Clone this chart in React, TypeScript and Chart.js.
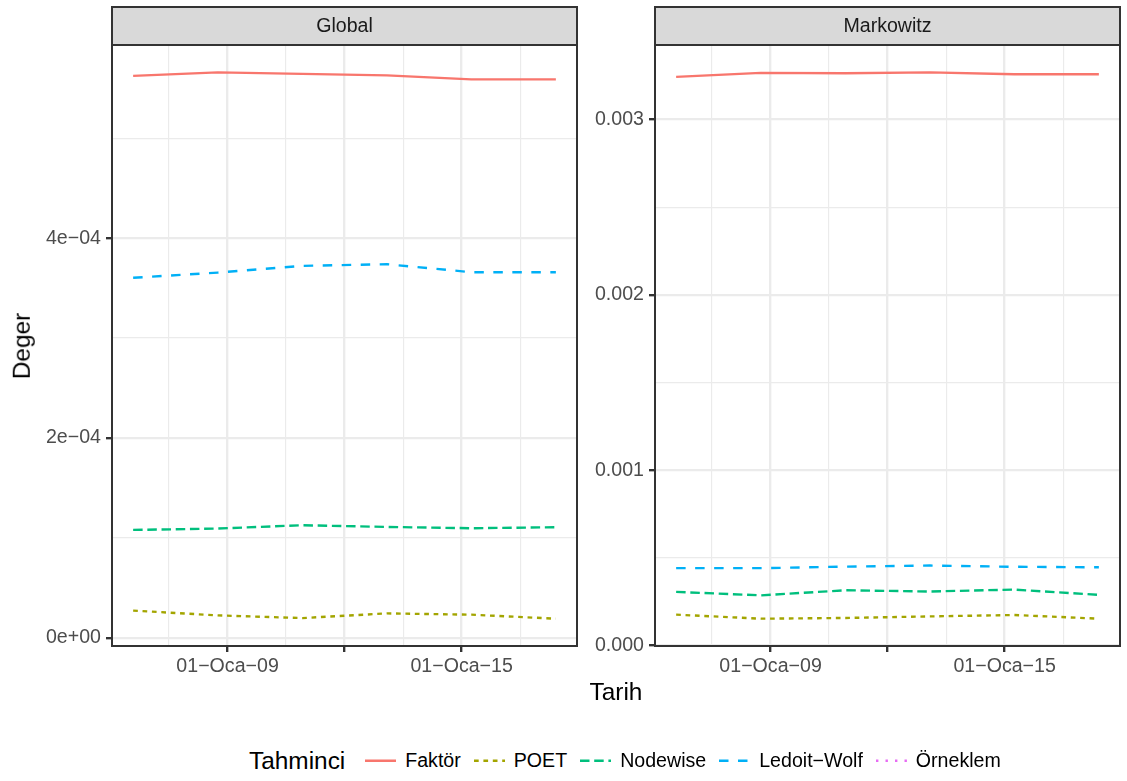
import React, { useEffect, useRef } from "react";
import { Chart, registerables } from "chart.js";

Chart.register(...registerables);

const FONT = '"Liberation Sans", Arial, Helvetica, sans-serif';

// Observation dates shared by both panels
const DATES = ["2006-08-01", "2008-10-01", "2010-12-01", "2013-02-01", "2015-04-01", "2017-06-01"];

// Estimators, in legend order
const ESTIMATORS = ["Faktör", "POET", "Nodewise", "Ledoit\u2212Wolf", "Örneklem"];
const COLORS = ["#F8766D", "#A3A500", "#00BF7D", "#00B0F6", "#E76BF3"];
const LINE_W = 2.37;
const DASHES: number[][] = [[], [4.7, 4.7], [9.5, 4.7], [9.5, 9.5], [2.4, 7.1]];

// Global minimum-variance portfolio
const GLOBAL_FAKTOR = [5.623e-4, 5.659e-4, 5.643e-4, 5.629e-4, 5.589e-4, 5.589e-4];
const GLOBAL_POET = [0.273e-4, 0.225e-4, 0.198e-4, 0.245e-4, 0.232e-4, 0.192e-4];
const GLOBAL_NODEWISE = [1.080e-4, 1.094e-4, 1.127e-4, 1.110e-4, 1.097e-4, 1.107e-4];
const GLOBAL_LEDOIT_WOLF = [3.603e-4, 3.655e-4, 3.722e-4, 3.739e-4, 3.659e-4, 3.659e-4];
const GLOBAL_ORNEKLEM: (number | null)[] = [null, null, null, null, null, null];

// Markowitz portfolio
const MARKOWITZ_FAKTOR = [3.244e-3, 3.267e-3, 3.265e-3, 3.270e-3, 3.259e-3, 3.259e-3];
const MARKOWITZ_POET = [0.177e-3, 0.154e-3, 0.158e-3, 0.167e-3, 0.175e-3, 0.154e-3];
const MARKOWITZ_NODEWISE = [0.307e-3, 0.287e-3, 0.316e-3, 0.309e-3, 0.320e-3, 0.290e-3];
const MARKOWITZ_LEDOIT_WOLF = [0.442e-3, 0.442e-3, 0.451e-3, 0.457e-3, 0.450e-3, 0.447e-3];
const MARKOWITZ_ORNEKLEM: (number | null)[] = [null, null, null, null, null, null];

// Axis breaks and labels
const X_BREAKS = ["2009-01-01", "2012-01-01", "2015-01-01"];
const X_LABELS = ["01\u2212Oca\u221209", "", "01\u2212Oca\u221215"];
const GLOBAL_Y_BREAKS = [0, 2e-4, 4e-4];
const GLOBAL_Y_LABELS = ["0e+00", "2e\u221204", "4e\u221204"];
const MARKOWITZ_Y_BREAKS = [0, 0.001, 0.002, 0.003];
const MARKOWITZ_Y_LABELS = ["0.000", "0.001", "0.002", "0.003"];

const STRIP_TOP = 7;
const PANEL_TOP = 45;
const TICK_FONT = 19.6;
const TITLE_FONT = 24.4;

type TickSpec = { value: number; isMajor: boolean; text: string };

const ts = (d: string) => Date.parse(d);

function expand(values: number[]): [number, number] {
  const lo = Math.min(...values);
  const hi = Math.max(...values);
  const pad = (hi - lo) * 0.05;
  return [lo - pad, hi + pad];
}

function buildTicks(major: number[], labels: string[], lo: number, hi: number): TickSpec[] {
  const out: TickSpec[] = major.map((v, i) => ({ value: v, isMajor: true, text: labels[i] }));
  const minor: number[] = [];
  for (let i = 0; i < major.length - 1; i++) minor.push((major[i] + major[i + 1]) / 2);
  const first = major[1] - major[0];
  const last = major[major.length - 1] - major[major.length - 2];
  minor.push(major[0] - first / 2, major[major.length - 1] + last / 2);
  minor.forEach((m) => {
    if (m >= lo && m <= hi) out.push({ value: m, isMajor: false, text: "" });
  });
  return out.sort((a, b) => a.value - b.value);
}

const panelFrame = {
  id: "panelFrame",
  afterDraw(chart: any, _args: any, opts: any) {
    const { ctx, chartArea: a } = chart;
    ctx.save();
    ctx.lineWidth = 2;
    ctx.strokeStyle = "#333333";
    ctx.strokeRect(a.left, a.top, a.right - a.left, a.bottom - a.top);
    ctx.fillStyle = "#D9D9D9";
    ctx.fillRect(a.left, STRIP_TOP, a.right - a.left, a.top - STRIP_TOP);
    ctx.strokeRect(a.left, STRIP_TOP, a.right - a.left, a.top - STRIP_TOP);
    ctx.fillStyle = "#1A1A1A";
    ctx.font = `${TICK_FONT}px ${FONT}`;
    ctx.textAlign = "center";
    ctx.textBaseline = "middle";
    ctx.fillText(opts.title, (a.left + a.right) / 2, (STRIP_TOP + a.top) / 2 + 1);
    ctx.restore();
  },
};

type PanelProps = {
  title: string;
  series: (number | null)[][];
  yBreaks: number[];
  yLabels: string[];
  left: number;
  width: number;
  height: number;
  axisWidth: number;
  padRight: number;
};

function Panel({ title, series, yBreaks, yLabels, left, width, height, axisWidth, padRight }: PanelProps) {
  const ref = useRef<HTMLCanvasElement | null>(null);

  useEffect(() => {
    if (!ref.current) return;
    const xs = DATES.map(ts);
    const [xMin, xMax] = expand(xs);
    const yVals = series.flat().filter((v): v is number => v !== null);
    const [yMin, yMax] = expand(yVals);
    const xTicks = buildTicks(X_BREAKS.map(ts), X_LABELS, xMin, xMax);
    const yTicks = buildTicks(yBreaks, yLabels, yMin, yMax);

    const gridOpts = {
      color: "#EBEBEB",
      lineWidth: (c: any) => (c.tick && c.tick.isMajor ? LINE_W : LINE_W / 2),
      drawTicks: true,
      tickLength: 6,
      tickWidth: LINE_W,
      tickColor: (c: any) => (c.tick && c.tick.isMajor ? "#333333" : "rgba(0,0,0,0)"),
    };
    const tickFont = { family: FONT, size: TICK_FONT };

    const chart = new Chart(ref.current, {
      type: "line",
      data: {
        datasets: ESTIMATORS.map((name, i) => ({
          label: name,
          data: xs.map((x, j) => ({ x, y: series[i][j] })),
          borderColor: COLORS[i],
          backgroundColor: COLORS[i],
          borderWidth: LINE_W,
          borderDash: DASHES[i],
          borderCapStyle: "butt",
          borderJoinStyle: "round",
          pointRadius: 0,
          tension: 0,
          fill: false,
          spanGaps: false,
        })),
      },
      options: {
        responsive: false,
        animation: false,
        devicePixelRatio: 1,
        layout: { padding: { top: PANEL_TOP, right: padRight, left: 0, bottom: 0 } },
        plugins: {
          legend: { display: false },
          tooltip: { enabled: false },
          panelFrame: { title },
        } as any,
        scales: {
          x: {
            type: "linear",
            min: xMin,
            max: xMax,
            afterBuildTicks: (s: any) => {
              s.ticks = xTicks.map((t) => ({ ...t }));
            },
            afterFit: (s: any) => {
              s.height = height - 646;
            },
            ticks: {
              autoSkip: false,
              maxRotation: 0,
              minRotation: 0,
              padding: 3,
              color: "#4D4D4D",
              font: tickFont,
              callback: (_v: any, i: number) => xTicks[i].text,
            },
            grid: gridOpts,
            border: { display: false },
          },
          y: {
            type: "linear",
            min: yMin,
            max: yMax,
            afterBuildTicks: (s: any) => {
              s.ticks = yTicks.map((t) => ({ ...t }));
            },
            afterFit: (s: any) => {
              s.width = axisWidth;
            },
            ticks: {
              autoSkip: false,
              padding: 5,
              color: "#4D4D4D",
              font: tickFont,
              callback: (_v: any, i: number) => yTicks[i].text,
            },
            grid: gridOpts,
            border: { display: false },
          },
        },
      } as any,
      plugins: [panelFrame],
    });
    return () => chart.destroy();
  }, []);

  return (
    <canvas
      ref={ref}
      width={width}
      height={height}
      style={{ position: "absolute", left, top: 0, width, height }}
    />
  );
}

function Legend() {
  return (
    <div
      style={{
        position: "absolute",
        left: 249,
        top: 761,
        transform: "translateY(-50%)",
        display: "flex",
        alignItems: "center",
        whiteSpace: "nowrap",
        fontFamily: FONT,
        color: "#000000",
      }}
    >
      <span style={{ fontSize: TITLE_FONT, lineHeight: 1, marginRight: 20 }}>Tahminci</span>
      {ESTIMATORS.map((name, i) => (
        <span key={name} style={{ display: "flex", alignItems: "center", marginRight: 13 }}>
          <svg width={31} height={12} style={{ display: "block" }}>
            <line
              x1={0}
              y1={6}
              x2={31}
              y2={6}
              stroke={COLORS[i]}
              strokeWidth={LINE_W}
              strokeDasharray={DASHES[i].length ? DASHES[i].join(" ") : undefined}
            />
          </svg>
          <span style={{ fontSize: TICK_FONT, lineHeight: 1, marginLeft: 9 }}>{name}</span>
        </span>
      ))}
    </div>
  );
}

export default function App() {
  return (
    <div
      style={{
        position: "absolute",
        left: 0,
        top: 0,
        width: 1127,
        height: 781,
        background: "#FFFFFF",
        overflow: "hidden",
        fontFamily: FONT,
      }}
    >
      <Panel
        title="Global"
        series={[GLOBAL_FAKTOR, GLOBAL_POET, GLOBAL_NODEWISE, GLOBAL_LEDOIT_WOLF, GLOBAL_ORNEKLEM]}
        yBreaks={GLOBAL_Y_BREAKS}
        yLabels={GLOBAL_Y_LABELS}
        left={0}
        width={585}
        height={686}
        axisWidth={112}
        padRight={8}
      />
      <Panel
        title="Markowitz"
        series={[MARKOWITZ_FAKTOR, MARKOWITZ_POET, MARKOWITZ_NODEWISE, MARKOWITZ_LEDOIT_WOLF, MARKOWITZ_ORNEKLEM]}
        yBreaks={MARKOWITZ_Y_BREAKS}
        yLabels={MARKOWITZ_Y_LABELS}
        left={585}
        width={542}
        height={686}
        axisWidth={70}
        padRight={7}
      />
      <div
        style={{
          position: "absolute",
          left: 22,
          top: 346,
          transform: "translate(-50%, -50%) rotate(-90deg)",
          fontSize: TITLE_FONT,
          lineHeight: 1,
          whiteSpace: "nowrap",
          color: "#000000",
        }}
      >
        Deger
      </div>
      <div
        style={{
          position: "absolute",
          left: 616,
          top: 692,
          transform: "translate(-50%, -50%)",
          fontSize: TITLE_FONT,
          lineHeight: 1,
          whiteSpace: "nowrap",
          color: "#000000",
        }}
      >
        Tarih
      </div>
      <Legend />
    </div>
  );
}
